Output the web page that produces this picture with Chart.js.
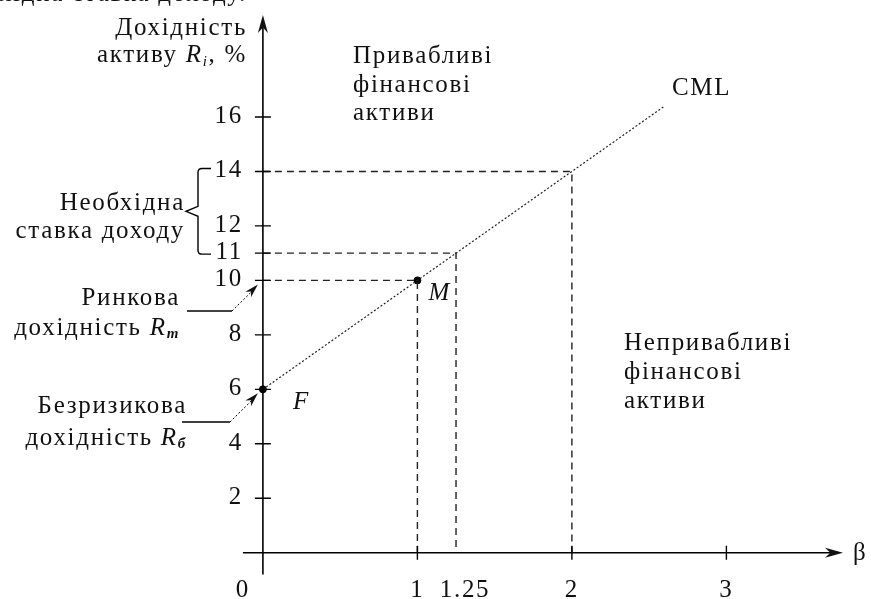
<!DOCTYPE html>
<html lang="uk">
<head>
<meta charset="utf-8">
<title>CML</title>
<script src="https://cdn.jsdelivr.net/npm/chart.js@4.4.0/dist/chart.umd.min.js"></script>
<style>
    html, body { margin: 0; padding: 0; background: #fff; }
    #wrap { width: 871px; height: 599px; position: relative; }
</style>
</head>
<body>
<div id="wrap"><canvas id="cmlChart"></canvas></div>
<script>
// Capital market line: beta -> return of the asset, %
const cmlBeta = [0, 1, 1.25, 2, 2.6];
const cmlReturn = [6, 10, 11, 14, 16.4];

// Dashed projections from the line down to the axes
const guideBeta = [1, 1.25, 2];
const guideReturn = [10, 11, 14];

// Marked points on the line
const pointNames = ['F', 'M'];
const pointBeta = [0, 1];
const pointReturn = [6, 10];

// Axis ticks and labels
const xTickMarks = [1, 2, 3];
const xLabelValues = [0, 1, 1.25, 2, 3];
const xTickLabels = ['0', '1', '1.25', '2', '3'];
const yTicks = [2, 4, 6, 8, 10, 11, 12, 14, 16];
const yTickLabels = ['2', '4', '6', '8', '10', '11', '12', '14', '16'];

const SERIF = '"Liberation Serif", "DejaVu Serif", serif';
const FONT = '25px ' + SERIF;
const FONT_IT = 'italic 25px ' + SERIF;
const FONT_SUB = 'italic 15px ' + SERIF;
const SPACING = '1.7px';

document.addEventListener('DOMContentLoaded', function() {
    const ctx = document.getElementById('cmlChart').getContext('2d');

    // text made of several runs (plain, italic, subscript)
    function drawRuns(c, runs, x, y, align) {
        let total = 0;
        runs.forEach(r => { c.font = r.font; total += c.measureText(r.text).width; });
        let cx = align === 'right' ? x - total : x;
        c.textAlign = 'left';
        runs.forEach(r => {
            c.font = r.font;
            c.fillText(r.text, cx, y + (r.dy || 0));
            cx += c.measureText(r.text).width;
        });
    }

    function arrowHead(c, fx, fy, tx, ty, len, half) {
        const a = Math.atan2(ty - fy, tx - fx);
        const bx = tx - len * Math.cos(a), by = ty - len * Math.sin(a);
        const nx = -Math.sin(a) * half, ny = Math.cos(a) * half;
        const mx = tx - len * 0.7 * Math.cos(a), my = ty - len * 0.7 * Math.sin(a);
        c.beginPath();
        c.moveTo(tx, ty);
        c.lineTo(bx + nx, by + ny);
        c.lineTo(mx, my);
        c.lineTo(bx - nx, by - ny);
        c.closePath();
        c.fill();
    }

    // axes, ticks, captions and callouts
    const diagramPlugin = {
        id: 'diagram',
        afterDraw(chart) {
            const c = chart.ctx;
            const xs = chart.scales.x, ys = chart.scales.y;
            const x0 = xs.getPixelForValue(0), y0 = ys.getPixelForValue(0);
            c.save();
            c.fillStyle = '#111';
            c.strokeStyle = '#000';
            c.textBaseline = 'alphabetic';
            c.letterSpacing = SPACING;

            // caption line cut off at the top edge
            c.font = FONT;
            c.textAlign = 'right';
            c.fillText('Необхідна ставка доходу.', 247, 1);

            // axes
            c.lineWidth = 1.6;
            c.setLineDash([]);
            c.beginPath();
            c.moveTo(x0, ys.getPixelForValue(-0.8));
            c.lineTo(x0, 22);
            c.moveTo(x0 - 20, y0);
            c.lineTo(836, y0);
            c.stroke();
            arrowHead(c, x0, 40, x0, 15, 18, 5);
            arrowHead(c, 820, y0, 843, y0, 18, 5);

            // tick marks
            c.lineWidth = 1.4;
            c.beginPath();
            yTicks.forEach(v => {
                const py = ys.getPixelForValue(v);
                c.moveTo(x0 - 8, py);
                c.lineTo(x0 + 8, py);
            });
            xTickMarks.forEach(v => {
                const px = xs.getPixelForValue(v);
                c.moveTo(px, y0 - 7);
                c.lineTo(px, y0 + 7);
            });
            c.stroke();

            c.font = FONT;
            c.textAlign = 'right';
            yTicks.forEach((v, i) => {
                c.fillText(yTickLabels[i], x0 - 20, ys.getPixelForValue(v) + 6);
            });
            c.textAlign = 'center';
            xLabelValues.forEach((v, i) => {
                let px = xs.getPixelForValue(v);
                if (v === 0) px -= 20;
                if (xTickLabels[i].length > 2) px += 9;
                c.fillText(xTickLabels[i], px, 597);
            });
            c.textAlign = 'left';
            c.fillText('β', 853, y0 + 7);

            // y axis title
            c.textAlign = 'right';
            c.fillText('Дохідність', 247, 35);
            drawRuns(c, [
                { text: 'активу ', font: FONT },
                { text: 'R', font: FONT_IT },
                { text: 'i', font: FONT_SUB, dy: 4 },
                { text: ', %', font: FONT }
            ], 247, 62, 'right');

            // regions and line name
            c.font = FONT;
            c.textAlign = 'left';
            ['Привабливі', 'фінансові', 'активи'].forEach((t, i) => c.fillText(t, 353, 63 + i * 28.5));
            ['Непривабливі', 'фінансові', 'активи'].forEach((t, i) => c.fillText(t, 624, 350 + i * 29));
            c.fillText('CML', 672, 95);

            // point names
            c.font = FONT_IT;
            pointNames.forEach((n, i) => {
                const px = xs.getPixelForValue(pointBeta[i]);
                const py = ys.getPixelForValue(pointReturn[i]);
                c.fillText(n, px + (n === 'F' ? 30 : 11), py + 20);
            });

            // brace for the required rate of return
            const bTop = ys.getPixelForValue(14) - 3;
            const bBot = ys.getPixelForValue(11) + 1;
            const bMid = (bTop + bBot) / 2;
            c.lineWidth = 1.4;
            c.beginPath();
            c.moveTo(211, bTop);
            c.lineTo(202, bTop);
            c.quadraticCurveTo(198, bTop, 198, bTop + 4);
            c.lineTo(198, bMid - 5);
            c.lineTo(186, bMid);
            c.lineTo(198, bMid + 5);
            c.lineTo(198, bBot - 4);
            c.quadraticCurveTo(198, bBot, 202, bBot);
            c.lineTo(211, bBot);
            c.stroke();
            c.font = FONT;
            c.textAlign = 'right';
            c.fillText('Необхідна', 185, 210);
            c.fillText('ставка доходу', 185, 238);

            // callouts for market and risk-free returns
            const callouts = [
                { value: 10, lineY: 311, left: 187, bend: 232, lines: ['Ринкова', 'R', 'm'], y1: 305, y2: 335, right: 180 },
                { value: 6, lineY: 422, left: 182, bend: 230, lines: ['Безризикова', 'R', 'б'], y1: 413, y2: 445, right: 187 }
            ];
            callouts.forEach(co => {
                const tx = x0 - 5, ty = ys.getPixelForValue(co.value) + 4;
                c.lineWidth = 1.3;
                c.setLineDash([]);
                c.beginPath();
                c.moveTo(co.left, co.lineY);
                c.lineTo(co.bend, co.lineY);
                c.stroke();
                c.lineWidth = 1;
                c.setLineDash([2, 2]);
                c.beginPath();
                c.moveTo(co.bend, co.lineY);
                c.lineTo(tx - 6, ty + 7);
                c.stroke();
                c.setLineDash([]);
                arrowHead(c, co.bend, co.lineY, tx, ty, 14, 4);
                c.font = FONT;
                c.textAlign = 'right';
                c.fillText(co.lines[0], co.right, co.y1);
                drawRuns(c, [
                    { text: 'дохідність ', font: FONT },
                    { text: co.lines[1], font: FONT_IT },
                    { text: co.lines[2], font: 'bold ' + FONT_SUB, dy: 3 }
                ], co.right, co.y2, 'right');
            });
            c.restore();
        }
    };

    const guideSets = guideBeta.map((b, i) => ({
        data: [{ x: 0, y: guideReturn[i] }, { x: b, y: guideReturn[i] }, { x: b, y: 0 }],
        showLine: true,
        borderColor: '#222',
        borderWidth: 1.4,
        borderDash: [7, 5],
        pointRadius: 0,
        fill: false
    }));

    new Chart(ctx, {
        type: 'scatter',
        data: {
            datasets: [
                {
                    data: cmlBeta.map((b, i) => ({ x: b, y: cmlReturn[i] })),
                    showLine: true,
                    borderColor: '#222',
                    borderWidth: 1.2,
                    borderDash: [2, 2],
                    pointRadius: 0,
                    fill: false
                },
                ...guideSets,
                {
                    data: pointBeta.map((b, i) => ({ x: b, y: pointReturn[i] })),
                    pointRadius: 3.5,
                    pointBackgroundColor: '#000',
                    pointBorderColor: '#000',
                    showLine: false
                }
            ]
        },
        options: {
            responsive: true,
            maintainAspectRatio: false,
            animation: false,
            layout: { padding: { left: 232, right: 21, top: 8, bottom: 19 } },
            plugins: {
                legend: { display: false },
                tooltip: { enabled: false }
            },
            scales: {
                x: { type: 'linear', min: -0.2, max: 3.8, display: false },
                y: { type: 'linear', min: -1, max: 20, display: false }
            }
        },
        plugins: [diagramPlugin]
    });
});
</script>
</body>
</html>
